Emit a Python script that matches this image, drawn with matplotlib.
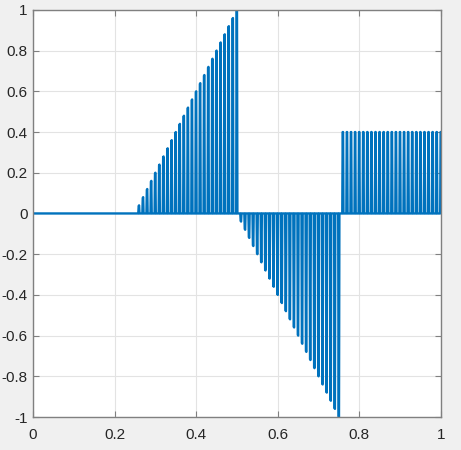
import numpy as np
import matplotlib as mpl
mpl.use('Agg')
from matplotlib import pyplot as plt

# piecewise pulse train
seg_start   = [0.00, 0.25, 0.50, 0.75]
seg_end     = [0.25, 0.50, 0.75, 1.00]
amp_start   = [0.0,  0.0,  0.0,  0.4]
amp_end     = [0.0,  1.0, -1.0,  0.4]
pulse_per   = 10        # samples between spikes
pulse_on    = [9, 0]    # samples (mod period) where a spike is high
dt          = 0.001
n_samp      = 1001

xticks      = [0, 0.2, 0.4, 0.6, 0.8, 1]
yticks      = [-1, -0.8, -0.6, -0.4, -0.2, 0, 0.2, 0.4, 0.6, 0.8, 1]

t   = np.arange(n_samp)*dt
env = np.zeros_like(t)
for s0, s1, a0, a1 in zip(seg_start, seg_end, amp_start, amp_end):
    tf      = (t > s0 + 1e-9) & (t <= s1 + 1e-9)
    env[tf] = a0 + (a1 - a0)*(t[tf] - s0)/(s1 - s0)
sq  = np.isin(np.arange(n_samp) % pulse_per, pulse_on).astype(float)
y   = env*sq

plt.rcParams['font.family'] = ['Liberation Sans', 'DejaVu Sans']
fig = plt.figure(figsize=(4.61, 4.5), dpi=100, facecolor='#f0f0f0')
ax  = fig.add_axes([0.0716, 0.0733, 0.8850, 0.9047])
ax.plot(t, y, color='#0072bd', lw=1.7)

ax.set_xlim(0, 1)
ax.set_ylim(-1, 1)
ax.set_xticks(xticks)
ax.set_xticklabels(['0', '0.2', '0.4', '0.6', '0.8', '1'])
ax.set_yticks(yticks)
ax.set_yticklabels(['-1', '-0.8', '-0.6', '-0.4', '-0.2', '0', '0.2', '0.4', '0.6', '0.8', '1'])
ax.grid(True, color='#e3e3e3', lw=0.8)
ax.set_axisbelow(True)
ax.tick_params(direction='in', length=4, color='#808080', labelcolor='#262626',
               labelsize=11, top=True, right=True, labeltop=False, labelright=False)
ax.tick_params(axis='x', pad=8)
ax.tick_params(axis='y', pad=4)
for sp in ax.spines.values():
    sp.set_color('#808080')
    sp.set_linewidth(1.0)

fig.savefig('out.png', dpi=100, facecolor=fig.get_facecolor())
